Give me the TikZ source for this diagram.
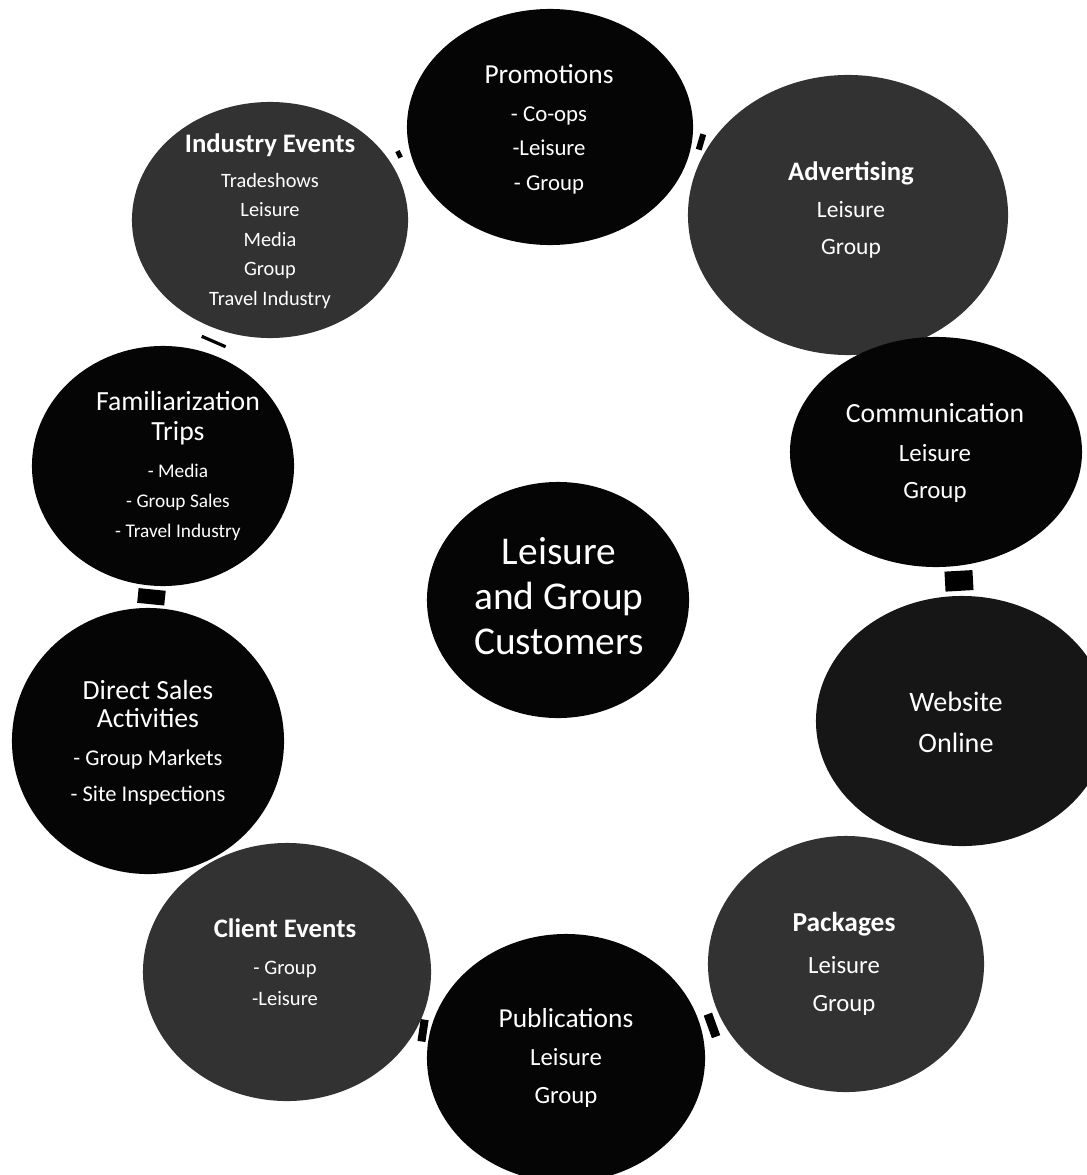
\documentclass[tikz,border=0pt]{standalone}
\usepackage{fontspec}
\setmainfont{Carlito}
\usetikzlibrary{shapes.geometric}

\definecolor{discgrey}{HTML}{323232}
\definecolor{discblack}{HTML}{050505}
\definecolor{discdark}{HTML}{161616}

\begin{document}
\begin{tikzpicture}[
  x=0.025cm, y=-0.025cm,
  disc/.style={ellipse, inner sep=0pt},
  blk/.style={disc, fill=discblack},
  gry/.style={disc, fill=discgrey},
  txt/.style={text=white, align=center, inner sep=0pt},
  conn/.style={rectangle, fill=black, inner sep=0pt, sloped}
]
\useasboundingbox (0,0) rectangle (1086,1175);

% outer ring, clockwise from the top
\node[blk, minimum width=7.15cm, minimum height=5.9cm] (promo) at (550,127) {};
\node[gry, minimum width=8.0cm, minimum height=7.0cm] (advert) at (848,215) {};
\node[blk, minimum width=7.3cm, minimum height=5.75cm] (comm) at (936,452) {};
\node[blk, minimum width=7.3cm, minimum height=6.25cm, fill=discdark] (web) at (962,721) {};
\node[gry, minimum width=6.9cm, minimum height=6.4cm] (pack) at (846,964) {};
\node[blk, minimum width=6.95cm, minimum height=6.2cm] (pub) at (566,1058) {};
\node[gry, minimum width=7.2cm, minimum height=6.45cm] (client) at (287,972) {};
\node[blk, minimum width=6.8cm, minimum height=6.65cm] (direct) at (148,741) {};
\node[blk, minimum width=6.55cm, minimum height=6.0cm] (fam) at (163,466) {};
\node[gry, minimum width=6.9cm, minimum height=5.9cm] (indus) at (270,220) {};

% hub
\node[blk, minimum width=6.55cm, minimum height=5.9cm] (hub) at (558,600) {};

% texts
\node[txt, font=\fontsize{16.2}{24.5}\selectfont] (promoTxt) at (549,129)
  {\fontsize{19.5}{24.5}\selectfont Promotions\\[2.5pt]- Co-ops\\-Leisure\\- Group};
\node[txt, font=\fontsize{16.7}{26.5}\selectfont] (advertTxt) at (851,210)
  {\fontsize{19}{26.5}\selectfont\bfseries Advertising\\Leisure\\Group};
\node[txt, font=\fontsize{17.7}{26}\selectfont] (commTxt) at (935,453)
  {\fontsize{19.7}{26}\selectfont Communication\\[2pt]Leisure\\Group};
\node[txt, font=\fontsize{20}{29}\selectfont] (webTxt) at (956,722)
  {Website\\Online};
\node[txt, font=\fontsize{17.6}{27.5}\selectfont] (packTxt) at (844,964)
  {\fontsize{19.5}{27.5}\selectfont\bfseries Packages\\[2pt]Leisure\\Group};
\node[txt, font=\fontsize{17.6}{27}\selectfont] (pubTxt) at (566,1058)
  {\fontsize{19.5}{27}\selectfont Publications\\Leisure\\Group};
\node[txt, font=\fontsize{14.6}{22}\selectfont] (clientTxt) at (285,962)
  {\fontsize{19}{22}\selectfont\bfseries Client Events\\[4pt]- Group\\-Leisure};
\node[txt, font=\fontsize{16}{25.5}\selectfont] (directTxt) at (148,743)
  {\fontsize{19.7}{25.5}\selectfont Direct Sales\\[-5.5pt]\fontsize{19.7}{25.5}\selectfont Activities\\[1.5pt]- Group Markets\\- Site Inspections};
\node[txt, font=\fontsize{13.75}{21.5}\selectfont] (famTxt) at (178,466)
  {\fontsize{19.7}{21.5}\selectfont Familiarization\\\fontsize{19.7}{21.5}\selectfont Trips\\[4.5pt]- Media\\- Group Sales\\- Travel Industry};
\node[txt, font=\fontsize{14.5}{21}\selectfont] (indusTxt) at (270,221)
  {\fontsize{19}{21}\selectfont\bfseries Industry Events\\[4pt]Tradeshows\\Leisure\\Media\\Group\\Travel Industry};
\node[txt, font=\fontsize{28}{32}\selectfont] (hubTxt) at (559,596)
  {Leisure\\and Group\\Customers};

% small connectors in the gaps
\path (promo.-5.6) -- node[conn, minimum width=0.15cm, minimum height=0.4cm]{} (advert.153.4);
\path (comm.-79.9) -- node[conn, minimum width=0.5cm, minimum height=0.7cm]{} (web.91.2);
\path (pack.-155.2) -- node[conn, minimum width=0.22cm, minimum height=0.6cm]{} (pub.12.6);
\path (pub.169.8) -- node[conn, minimum width=0.2cm, minimum height=0.55cm]{} (client.-24);
\path (direct.89.2) -- node[conn, minimum width=0.37cm, minimum height=0.68cm]{} (fam.-95.7);
\path (fam.68) -- node[conn, minimum width=0.08cm, minimum height=0.65cm]{} (indus.-115.2);
\path (indus.27.9) -- node[conn, minimum width=0.12cm, minimum height=0.18cm]{} (promo.-171.2);
\end{tikzpicture}
\end{document}
